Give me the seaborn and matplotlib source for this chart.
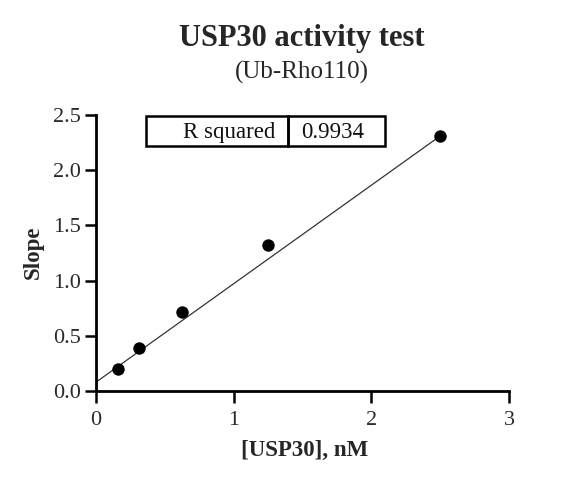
import numpy as np
import pandas as pd
import matplotlib
matplotlib.use("Agg")
import matplotlib.pyplot as plt
from matplotlib.patches import Rectangle
import seaborn as sns

# Data
usp30_nM = [0.15625, 0.3125, 0.625, 1.25, 2.5]
slope_vals = [0.20, 0.39, 0.72, 1.32, 2.31]
fit_slope = 0.892
fit_intercept = 0.08
r_squared_label = "R squared"
r_squared_value = "0.9934"
x_ticks = [0, 1, 2, 3]
y_ticks = [0.0, 0.5, 1.0, 1.5, 2.0, 2.5]

sns.set_theme(style="ticks")
plt.rcParams['font.family'] = ['Liberation Serif', 'DejaVu Serif']

df = pd.DataFrame({"conc": usp30_nM, "slope": slope_vals})

fig = plt.figure(figsize=(5.77, 4.82), dpi=100)
ax = fig.add_axes([0.1664, 0.1888, 0.7158, 0.5726])

# fitted line from 0 to max concentration
xl = np.array([0.0, max(usp30_nM)])
ax.plot(xl, fit_intercept + fit_slope * xl, color="#333333", lw=0.9, zorder=2)

sns.scatterplot(data=df, x="conc", y="slope", ax=ax, color="black",
                s=80, edgecolor="black", linewidth=0, zorder=3, clip_on=False)

ax.set_xlim(0, 3)
ax.set_ylim(0, 2.5)
ax.set_xticks(x_ticks)
ax.set_xticklabels([str(t) for t in x_ticks])
ax.set_yticks(y_ticks)
ax.set_yticklabels([f"{t:.1f}" for t in y_ticks])
ax.tick_params(axis="both", length=8, width=1.8, labelsize=16,
               labelcolor="#2a2a2a", color="black", pad=3)
ax.tick_params(axis="x", length=8.5, pad=6)
for s in ["top", "right"]:
    ax.spines[s].set_visible(False)
for s in ["left", "bottom"]:
    ax.spines[s].set_linewidth(2.0)
    ax.spines[s].set_color("black")

ax.set_xlabel("[USP30], nM", fontsize=16.5, fontweight="bold", va="center")
ax.set_ylabel("Slope", fontsize=16.5, fontweight="bold", va="center")
ax.xaxis.set_label_coords(0.504, -0.214)
ax.yaxis.set_label_coords(-0.1525, 0.504)

fig.text(0.523, 0.921, "USP30 activity test", ha="center", va="center",
         fontsize=22, fontweight="bold")
fig.text(0.523, 0.849, "(Ub-Rho110)", ha="center", va="center", fontsize=18)

# R squared box
bx0, bx1, bdiv = 0.120, 0.700, 0.466
by0, by1 = 0.889, 0.9975
for (a, b) in [(bx0, bdiv), (bdiv, bx1)]:
    ax.add_patch(Rectangle((a, by0), b - a, by1 - by0, transform=ax.transAxes,
                           fill=False, edgecolor="black", lw=1.8, clip_on=False, zorder=4))
ymid = (by0 + by1) / 2 - 0.006
ax.text(bdiv - 0.032, ymid, r_squared_label, transform=ax.transAxes,
        ha="right", va="center", fontsize=16.5, color="#111111")
ax.text(bdiv + 0.03, ymid, r_squared_value, transform=ax.transAxes,
        ha="left", va="center", fontsize=16.5, color="#111111")

fig.savefig("out.png", dpi=100)
